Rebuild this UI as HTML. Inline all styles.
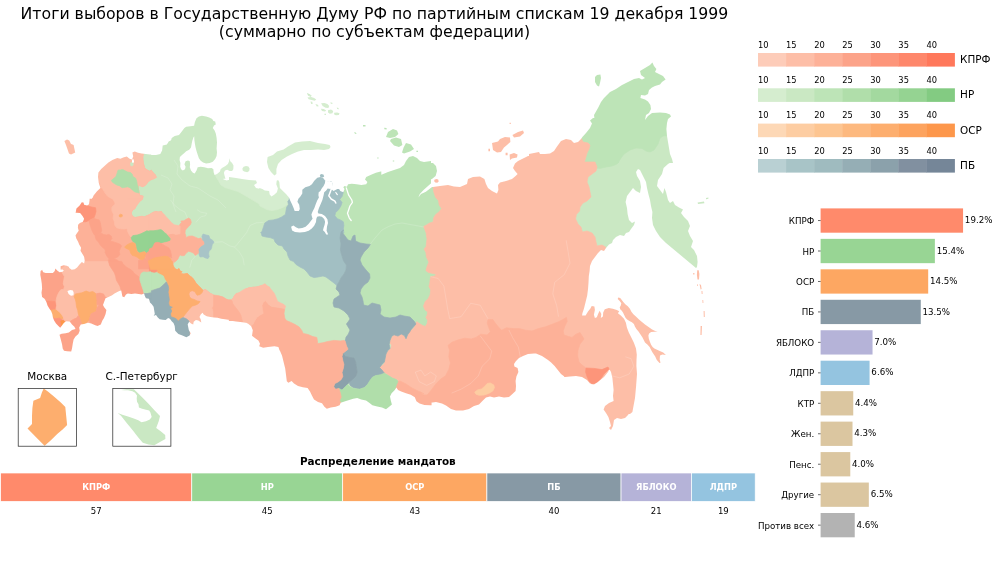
<!DOCTYPE html>
<html lang="ru">
<head>
<meta charset="utf-8">
<title>Итоги выборов в Государственную Думу РФ 1999</title>
<style>
html,body{margin:0;padding:0;background:#fff;}
body{width:1000px;height:563px;overflow:hidden;font-family:'DejaVu Sans', 'Liberation Sans', sans-serif;}
svg{display:block;}
text{font-family:'DejaVu Sans', 'Liberation Sans', sans-serif;fill:#000;}
.ttl{font-size:15.73px;}
.t10{font-size:8.68px;}
.t9{font-size:8.3px;}
.t9b{font-size:8.3px;font-weight:bold;}
.t11{font-size:9.55px;}
.t12{font-size:10.42px;}
.b{font-weight:bold;}
.w{fill:#fff;}
</style>
</head>
<body>
<svg width="1000" height="563" viewBox="0 0 1000 563">
<rect width="1000" height="563" fill="#fff"/>
<g id="map">
<defs><mask id="landmask" maskUnits="userSpaceOnUse" x="0" y="40" width="760" height="420"><path d="M149.4,154.9 156.0,154.9 160.3,154.1 162.1,150.4 162.7,145.6 166.9,144.4 168.7,141.6 171.1,140.2 171.7,138.0 174.7,136.0 179.0,135.1 181.6,131.7 184.4,128.1 186.2,126.7 190.4,126.2 194.1,125.7 194.9,122.1 196.5,118.2 198.9,116.6 201.9,115.8 206.1,116.6 209.2,117.5 212.2,119.1 213.4,121.1 215.2,121.5 215.8,124.5 214.0,125.5 212.8,128.1 214.6,130.5 215.8,133.5 216.6,137.8 217.0,142.6 216.6,148.6 217.0,152.3 216.6,155.9 215.2,158.9 212.8,161.7 209.8,163.1 206.1,163.5 203.1,162.5 200.7,160.7 198.9,158.3 197.7,154.7 196.5,151.0 195.6,147.4 194.9,143.8 194.4,140.2 194.2,136.3 193.5,137.2 192.3,140.8 191.7,143.8 191.0,147.4 189.2,149.8 186.2,151.3 184.4,152.9 182.0,154.9 179.9,157.1 179.6,160.1 180.4,163.1 180.2,166.7 181.1,169.2 182.8,170.4 185.0,169.2 185.6,166.7 184.4,164.3 185.6,161.3 188.0,160.5 189.8,161.3 190.1,164.3 189.8,167.3 191.0,170.4 192.9,172.8 194.7,173.4 196.5,170.4 197.7,167.3 200.7,166.7 204.3,167.3 208.0,168.2 211.6,168.0 213.4,169.2 213.7,172.2 214.6,175.0 217.0,174.0 220.0,171.6 220.6,169.2 222.4,167.7 225.5,166.1 227.9,164.1 229.1,161.3 229.4,158.3 230.3,161.3 232.1,163.1 233.5,165.5 233.3,169.2 232.1,171.0 229.7,171.0 227.3,169.8 224.9,170.4 223.9,172.8 224.6,175.8 225.5,178.8 149.4,178.8Z M242.4,168.6 243.6,166.7 246.0,165.9 248.4,166.5 249.6,168.6 249.2,171.0 247.2,172.2 244.2,171.6 242.7,170.4Z M75.6,213.0 76.4,208.4 79.6,205.6 81.6,202.4 83.6,202.8 84.4,206.0 90.0,207.2 91.2,201.0 93.6,195.6 96.8,191.6 100.4,188.0 98.8,183.0 98.0,177.0 98.4,172.4 101.2,169.0 105.6,165.0 108.4,162.4 112.4,160.0 117.2,158.0 120.4,158.8 123.2,157.6 126.8,156.4 129.6,158.8 132.0,159.6 133.2,156.4 132.4,152.4 134.8,151.4 138.0,152.8 141.6,153.6 150.0,154.4 151.2,154.4 151.2,213.0Z M64.4,141.0 67.0,139.6 69.2,140.6 71.0,144.0 73.6,145.0 75.2,152.4 71.0,154.4 69.0,153.6 66.0,145.0Z M149.6,177.0 222.4,177.0 223.6,179.6 227.0,180.4 231.0,178.4 231.0,213.0 149.6,213.0Z M306.9,93.0 309.3,93.9 311.7,95.5 310.8,96.9 308.1,95.7Z M307.5,97.5 311.1,97.1 314.1,98.1 316.3,99.6 314.7,100.8 311.7,99.9 308.7,99.3Z M310.5,101.5 312.3,101.7 312.7,104.1 311.1,103.9Z M315.4,104.1 317.8,104.7 318.7,106.3 316.8,106.6Z M321.1,103.2 324.4,102.9 327.4,104.1 329.2,106.0 328.4,108.0 325.6,107.8 322.6,106.0Z M330.4,102.3 332.3,102.7 332.5,103.9 330.8,103.7Z M320.8,108.7 323.8,109.0 326.2,110.4 325.0,111.6 322.0,111.1Z M328.0,110.2 331.0,109.6 333.2,111.1 332.5,113.2 329.8,113.8 328.0,112.4Z M334.1,112.8 337.1,112.4 339.5,113.2 338.9,115.0 335.9,115.3 334.2,114.4Z M336.8,107.5 338.5,108.0 338.8,109.2 337.1,109.0Z M324.4,113.8 326.0,113.8 326.0,115.0 324.5,115.0Z M363.0,124.9 365.5,124.9 365.5,126.5 363.0,126.5Z M354.0,132.2 355.8,132.4 356.6,134.1 355.0,133.8Z M384.2,127.8 386.6,128.1 386.6,129.5 384.4,129.3Z M416.4,150.8 418.0,150.8 418.0,152.0 416.4,152.0Z M392.8,160.4 394.2,160.4 394.2,161.6 392.8,161.6Z M377.2,157.4 378.6,157.4 378.6,158.4 377.2,158.4Z M388.0,132.0 393.0,129.0 397.0,130.4 398.4,134.0 395.0,137.0 390.0,138.0 386.0,137.0Z M391.0,139.0 396.0,137.6 401.0,139.0 402.4,145.0 399.0,147.0 394.0,145.6 390.0,141.0Z M406.0,143.0 411.0,144.4 414.0,149.0 410.0,151.6 404.0,153.6 402.0,152.4 403.6,147.6Z M267.0,162.0 267.6,157.0 273.0,155.0 277.0,151.6 283.6,149.6 288.0,146.4 295.0,142.4 302.0,141.6 310.0,141.0 318.0,143.0 325.0,144.0 329.6,145.0 330.6,147.0 329.0,149.0 324.0,150.0 318.0,149.6 311.0,150.0 304.0,150.0 298.0,151.6 292.0,154.0 287.0,156.4 281.6,160.0 278.0,164.0 276.4,169.0 276.4,174.0 274.4,175.6 271.0,172.0 268.4,168.0Z M229.0,177.0 236.0,178.0 242.0,179.0 249.0,180.0 256.0,180.4 257.0,183.0 254.0,185.0 256.0,188.0 260.4,189.0 260.4,213.0 229.0,213.0Z M259.4,187.9 262.4,189.1 264.8,190.6 269.1,191.0 269.7,194.6 271.5,196.6 274.5,194.6 276.9,192.2 277.9,188.5 276.3,184.3 276.7,180.7 278.1,180.1 279.3,181.9 279.9,187.9 282.9,191.0 286.0,194.0 289.0,197.6 290.2,200.6 292.0,204.2 293.8,208.5 295.0,212.1 296.2,213.3 298.6,211.5 299.8,209.1 299.2,204.8 297.4,201.8 298.4,198.8 300.4,196.6 302.3,193.4 302.3,189.7 305.3,187.3 309.5,186.1 311.9,184.3 314.3,180.7 317.3,177.7 320.4,177.1 323.4,178.3 325.2,180.7 329.4,181.9 331.2,181.3 332.4,183.1 332.4,186.1 331.2,189.1 333.6,191.0 337.3,189.1 339.1,188.9 340.3,191.0 343.3,192.2 344.5,189.1 343.3,187.3 344.5,186.1 346.9,186.7 348.1,184.3 351.8,183.7 356.6,184.3 361.4,184.9 366.2,184.3 367.4,181.9 365.0,179.5 366.2,177.1 371.1,174.7 375.9,172.8 380.7,171.6 381.3,171.6 381.3,233.8 259.4,233.8Z M319.8,175.3 321.0,174.1 323.4,174.4 324.2,176.5 322.8,177.4 320.4,177.1Z M228.0,318.0 431.5,318.0 431.6,405.2 430.0,405.2 424.4,404.9 419.6,403.6 416.4,401.2 414.8,397.2 410.8,394.8 406.0,393.2 401.2,391.6 398.0,390.0 396.4,387.6 394.8,390.0 391.6,393.2 390.0,396.4 390.8,400.4 391.9,404.4 389.2,406.8 386.0,409.2 382.0,407.6 377.2,406.5 372.4,405.2 369.2,402.8 366.0,400.4 361.2,399.6 357.2,398.0 353.2,398.8 349.2,400.1 345.2,401.2 340.7,402.8 339.6,405.2 335.6,406.8 330.8,407.6 326.8,408.7 324.4,406.8 322.0,403.3 318.0,402.0 314.0,399.6 311.9,395.6 310.0,391.6 307.6,387.9 302.8,387.3 298.0,386.0 294.0,383.6 291.6,380.9 288.4,382.8 286.8,381.2 286.0,374.8 285.2,368.4 283.6,362.0 282.0,355.6 279.6,350.0 280.0,351.8 278.4,347.0 274.4,346.2 268.0,347.0 263.2,347.8 259.2,346.2 260.0,343.8 258.4,340.6 255.2,338.2 252.0,335.8 252.8,330.2 251.2,326.2 247.2,323.0 242.4,322.2 236.0,321.4 229.6,320.6 228.8,320.4Z M379.0,213.0 379.0,176.0 382.0,174.4 388.0,172.0 394.0,170.0 400.0,168.0 404.0,165.0 406.0,161.0 409.0,157.0 413.0,156.0 417.0,158.0 420.0,161.0 424.0,162.0 431.0,161.0 431.0,213.0Z M429.0,186.4 433.0,187.0 440.0,186.0 448.0,185.0 454.0,186.4 460.0,187.0 467.0,184.0 468.0,179.0 473.0,177.0 480.0,176.4 484.4,179.0 486.0,184.0 488.0,188.0 492.0,191.0 497.0,193.6 498.4,190.0 498.0,185.0 500.0,182.4 506.0,181.0 512.0,179.0 515.6,176.0 517.6,174.0 515.0,171.0 513.0,168.0 515.0,163.6 518.0,161.0 524.0,158.0 530.0,155.0 531.0,155.0 531.0,213.0 429.0,213.0Z M429.0,162.0 433.0,163.0 436.0,166.0 437.0,171.0 435.6,176.0 432.0,179.0 429.0,180.0Z M434.0,180.0 437.0,179.0 439.0,180.4 438.4,182.4 435.0,182.8Z M492.0,143.0 498.0,141.6 500.0,139.0 505.0,137.0 510.0,137.6 510.4,142.0 507.0,145.0 504.0,147.6 501.0,152.0 497.0,152.4 493.0,150.0Z M512.4,135.0 518.0,132.0 523.0,130.4 524.0,133.0 520.0,136.4 514.0,137.6Z M509.6,154.4 514.0,153.0 517.6,154.4 517.0,157.6 512.0,158.4 510.0,160.0Z M505.6,152.8 507.6,152.8 507.6,155.2 505.6,155.2Z M488.4,148.8 490.0,148.8 490.0,151.2 488.4,151.2Z M509.6,122.8 510.8,122.8 510.8,124.0 509.6,124.0Z M529.0,154.0 534.0,153.0 539.0,152.0 540.0,154.0 545.0,154.0 550.0,153.6 554.0,151.0 557.0,146.4 561.0,141.0 566.0,139.0 571.0,140.0 574.0,143.0 578.0,142.0 581.0,139.0 582.4,137.0 586.0,133.0 590.0,128.0 592.0,123.6 590.0,120.4 593.0,118.0 600.0,116.0 602.0,119.0 600.0,122.0 595.0,123.0 594.0,115.0 598.0,108.0 601.0,102.0 604.0,98.0 610.0,92.0 616.0,89.0 622.0,85.0 628.0,82.0 634.0,79.0 639.0,78.0 642.0,79.6 645.0,78.0 641.0,75.0 640.0,71.0 645.0,68.0 650.0,65.0 652.4,62.4 654.0,66.0 656.4,69.0 655.0,72.0 660.0,74.4 663.0,76.0 665.6,79.6 662.0,82.0 660.0,84.4 655.0,86.0 652.0,87.6 649.0,90.0 648.0,94.0 645.0,95.6 641.0,95.0 640.4,98.0 645.0,99.6 648.0,101.6 650.4,105.0 651.0,109.0 649.0,113.0 646.0,115.0 645.0,120.0 648.0,116.0 652.0,113.0 660.0,112.4 666.0,113.0 670.0,114.4 671.0,116.4 668.0,119.0 667.0,123.0 666.4,129.0 667.0,136.0 668.0,142.0 669.0,148.0 670.0,154.0 672.0,159.0 673.0,163.0 529.0,163.0Z M595.0,77.0 597.0,75.0 600.4,74.4 601.0,78.0 600.0,83.0 599.0,86.4 597.0,85.6 595.0,82.0Z M673.0,161.0 668.0,164.0 663.6,168.0 662.0,174.0 658.0,180.0 657.0,186.0 660.0,190.0 663.0,194.0 664.4,188.0 666.0,192.0 668.0,200.0 670.0,203.0 673.0,201.0 675.0,205.0 679.0,207.6 683.0,209.6 681.0,213.0 684.0,217.0 688.0,221.0 690.0,226.0 688.0,231.0 690.0,236.0 693.0,241.0 691.0,247.0 694.0,250.0 697.0,256.0 697.6,262.0 697.0,267.0 696.0,268.0 690.0,263.0 684.0,258.0 678.0,253.0 672.0,248.0 666.0,243.0 660.0,237.0 656.0,231.0 653.0,225.0 652.0,218.0 652.4,212.0 651.0,206.0 650.0,200.0 648.4,194.0 647.0,188.0 646.0,182.0 644.0,178.0 642.0,174.0 640.0,170.0 638.0,169.0 636.0,172.0 637.0,176.0 640.0,181.0 641.0,187.0 640.0,193.0 636.0,191.0 633.0,188.0 630.0,192.0 627.0,196.0 625.6,202.0 627.0,208.0 627.6,214.0 629.0,220.0 632.0,223.0 635.0,221.6 634.0,225.0 631.0,229.0 629.0,232.0 626.0,233.0 624.0,236.0 620.0,235.0 616.0,237.0 613.0,240.0 612.0,243.0 609.0,244.4 606.0,248.0 604.0,251.0 601.0,250.0 598.0,253.0 595.0,257.0 592.0,261.0 590.0,266.0 589.6,271.0 589.0,275.0 529.0,275.0 529.0,161.0Z M697.6,202.4 704.0,201.6 704.4,203.2 698.0,204.0Z M706.0,198.0 708.4,197.6 708.4,198.8 706.0,199.2Z M697.2,270.2 698.7,270.2 699.4,274.0 699.0,279.5 697.5,279.5 696.9,275.0Z M693.2,273.0 694.4,273.0 694.4,274.4 693.2,274.4Z M429.0,211.0 531.0,211.0 531.0,325.0 429.0,325.0Z M229.0,211.0 431.0,211.0 431.0,321.0 229.0,321.0Z M529.0,273.0 589.6,270.0 588.8,276.4 588.5,282.8 588.0,289.2 587.2,295.6 585.6,302.0 584.0,308.4 582.4,313.2 582.1,315.6 585.6,315.6 588.0,311.6 590.4,308.4 591.7,306.0 594.4,306.5 594.9,310.0 593.9,314.8 594.9,318.0 596.8,317.2 598.4,313.2 599.7,310.8 601.3,314.0 600.8,318.0 602.9,316.4 603.2,312.4 604.8,309.2 608.8,308.1 612.8,308.7 616.8,310.0 619.2,311.3 617.9,313.2 620.8,315.6 624.0,318.8 625.9,322.8 626.9,327.6 628.8,332.4 631.2,337.2 633.9,342.8 636.0,348.4 636.8,354.8 636.5,359.9 636.4,366.0 637.0,374.0 636.4,382.0 636.0,387.0 613.6,387.0 613.0,380.0 612.0,374.0 610.0,368.0 608.0,372.0 604.0,377.0 599.0,381.0 594.0,384.0 590.0,383.6 587.0,380.0 582.0,377.0 576.0,376.0 570.0,376.4 565.0,377.0 561.0,374.0 557.0,369.0 553.0,364.0 548.0,360.0 542.0,356.0 536.0,353.6 529.0,353.0Z M629.0,385.0 636.2,385.0 635.0,398.0 632.4,412.0 630.0,414.0 629.0,414.0Z M618.2,297.6 620.2,298.1 621.8,300.1 623.3,302.1 625.3,304.2 627.8,306.2 629.9,308.7 631.4,311.8 633.4,314.3 635.9,316.5 639.0,319.4 642.0,321.9 645.0,324.4 648.6,326.9 652.1,329.5 655.2,331.0 657.7,331.5 654.7,331.7 651.1,332.0 649.1,333.5 648.4,335.5 648.8,338.6 649.8,341.6 651.1,344.7 652.6,347.0 654.4,348.4 659.2,350.8 663.2,352.4 665.9,355.1 662.4,354.5 660.0,355.6 659.7,359.6 660.5,362.8 659.5,363.1 656.8,359.9 655.2,356.4 652.2,351.9 649.6,347.0 647.6,344.7 645.0,342.6 644.0,340.6 642.5,337.6 640.5,334.5 638.5,331.5 636.4,329.0 634.9,326.4 633.9,323.9 631.9,322.2 629.4,320.9 627.1,319.6 625.5,317.8 624.3,315.3 623.1,312.8 621.8,310.7 620.2,309.2 619.7,307.2 620.7,305.7 621.3,303.2 619.7,301.1 617.7,299.1Z M699.5,284.0 701.0,285.0 701.6,289.0 700.6,289.5Z M697.0,284.6 698.0,284.6 698.0,285.8 697.0,285.8Z M701.5,291.0 702.4,291.0 702.6,294.0 701.7,294.0Z M702.4,300.0 703.2,300.0 703.4,303.0 702.6,303.0Z M703.6,311.0 704.6,311.0 704.8,317.0 703.8,317.0Z M700.6,326.0 702.0,326.0 701.6,335.0 700.4,335.0Z M429.0,323.0 625.0,323.0 627.0,330.0 630.0,337.0 631.0,340.0 631.0,412.0 630.0,412.0 628.0,415.0 625.0,418.0 621.0,419.0 617.0,418.0 614.0,420.0 613.0,426.0 611.0,430.0 609.0,428.0 611.0,426.0 610.0,422.0 608.4,417.0 606.0,413.0 603.6,409.6 605.0,406.0 609.0,403.0 613.6,401.0 613.0,396.0 613.6,390.0 613.0,384.0 612.4,378.0 611.0,372.0 609.0,368.4 606.0,373.0 602.0,378.0 598.0,382.0 594.0,384.4 591.0,384.0 588.0,381.0 585.0,377.6 581.0,376.4 577.0,375.6 572.0,376.0 568.0,376.4 564.4,377.0 562.0,373.6 559.0,370.4 555.6,367.0 551.6,363.0 548.0,359.0 544.0,355.6 539.0,353.6 534.0,353.6 528.0,354.0 523.0,356.0 519.0,358.0 516.0,361.0 514.0,364.0 514.4,366.4 517.6,368.0 518.4,372.0 516.4,376.4 515.6,381.0 516.0,386.0 515.6,391.0 512.4,394.0 509.0,397.0 504.0,397.6 499.0,396.4 494.0,397.6 490.0,396.4 486.0,397.6 482.4,401.0 479.0,404.4 474.0,406.0 469.0,409.0 463.0,410.4 456.0,410.4 451.0,409.0 446.0,405.6 442.0,403.6 436.0,402.0 429.0,403.0Z M256.0,199.0 256.0,331.0 253.6,330.0 252.6,327.2 250.2,324.8 246.6,323.0 243.0,322.1 239.3,321.8 234.5,321.2 229.7,320.0 224.9,319.3 221.2,318.7 217.6,317.8 214.0,317.5 210.4,316.9 206.7,316.3 203.7,314.5 202.5,312.7 200.7,314.5 199.5,316.9 200.7,319.3 201.3,322.4 198.3,320.6 195.9,320.0 193.7,321.8 193.2,324.5 191.0,323.6 189.2,321.8 187.7,324.2 188.0,326.0 188.8,330.0 190.7,333.2 189.6,335.6 186.4,337.2 182.4,335.6 178.4,334.0 175.2,330.8 174.7,326.0 173.5,323.0 171.7,321.2 169.9,318.7 168.1,318.1 165.7,320.0 162.7,319.7 159.7,319.3 157.8,317.5 156.0,315.1 153.6,315.7 154.8,313.9 154.2,310.3 153.6,306.7 151.8,304.3 150.0,302.4 148.9,298.8 145.9,298.2 144.7,295.8 144.1,293.6 141.7,294.4 138.7,294.0 135.0,293.6 131.4,294.0 127.8,293.6 126.0,294.6 124.2,297.3 122.4,296.4 121.8,293.4 121.2,290.4 119.3,291.0 116.9,292.2 114.5,293.4 112.1,295.2 108.5,297.0 105.5,298.2 104.2,301.8 103.0,304.9 104.2,307.3 106.4,310.0 105.6,314.0 104.0,318.0 102.4,320.4 100.8,324.4 97.6,326.0 95.2,325.2 91.2,323.6 88.0,322.8 84.0,324.1 80.8,324.4 79.2,327.6 79.7,330.8 78.4,334.0 75.5,336.4 73.6,339.6 72.8,343.6 72.0,348.4 71.2,351.6 67.2,351.3 64.0,350.8 62.7,348.4 62.1,344.4 60.8,339.6 59.5,334.8 61.6,333.7 65.6,333.2 68.8,332.4 72.0,330.0 75.5,328.9 74.4,326.8 72.0,324.4 69.6,321.5 66.4,321.2 64.0,322.8 61.6,326.0 60.2,327.8 58.4,326.0 56.0,323.6 54.1,320.6 52.9,317.5 52.3,313.9 51.1,310.9 49.3,308.5 47.5,305.5 46.3,301.8 44.5,298.8 42.1,297.0 41.5,292.8 42.1,288.6 41.8,283.7 41.1,278.9 40.3,274.7 40.6,271.1 42.1,269.8 43.3,272.3 45.7,273.1 49.3,272.9 52.9,272.9 54.7,271.1 55.4,268.6 57.2,270.5 59.6,272.3 62.6,271.7 63.8,270.5 61.6,268.6 62.6,266.8 65.6,266.2 68.6,267.4 71.7,269.8 74.7,269.2 77.1,267.4 79.5,264.4 81.9,262.0 84.1,263.4 84.7,260.4 84.1,256.7 82.3,253.7 80.5,250.7 81.1,247.7 79.3,244.7 78.1,241.7 76.3,238.6 75.5,235.6 76.9,233.2 78.7,230.8 77.9,227.8 78.1,224.7 79.9,222.9 82.9,221.7 84.1,218.7 82.3,215.7 79.9,212.7 76.9,211.5 76.3,209.1 78.1,207.2 80.5,204.8 81.7,202.2 83.5,202.4 84.1,204.8 87.2,205.4 89.0,204.2 89.6,200.0 89.6,198.8Z M60.6,266.2 63.6,265.2 66.6,265.8 69.1,267.0 69.1,269.4 60.6,269.4Z" fill="#fff"/></mask></defs>
<g mask="url(#landmask)">
<rect x="0" y="40" width="760" height="420" fill="#cae8c3"/>
<path d="M570.0,40.0 745.0,40.0 745.0,135.6 668.0,135.6 663.0,136.0 660.0,138.0 658.0,144.0 654.0,150.0 650.0,152.0 646.0,151.0 642.0,148.4 636.0,148.0 630.0,150.0 624.0,154.0 621.0,158.0 618.0,163.0 619.0,162.0 617.0,164.0 612.0,166.0 606.0,167.0 600.0,168.4 595.0,168.0 590.0,172.0 570.0,172.0Z" fill="#bde4b7" stroke="#bde4b7" stroke-width="0.7" stroke-linejoin="round"/>
<path d="M346.0,120.0 445.0,120.0 445.0,340.0 416.0,324.0 414.0,321.0 410.0,317.0 404.0,316.0 400.0,315.0 396.0,317.0 390.0,318.0 384.0,317.0 380.0,314.0 381.0,310.0 380.0,305.0 376.0,304.0 372.0,303.0 368.0,306.0 363.6,305.0 363.0,301.0 362.0,297.0 360.0,293.0 361.0,289.0 364.0,285.0 368.0,282.0 370.0,278.0 369.6,274.0 366.0,270.0 362.0,265.0 360.0,260.0 361.0,257.0 364.0,252.0 368.0,248.0 370.4,244.4 366.0,244.0 360.0,243.0 355.6,241.0 355.0,235.0 353.0,236.0 351.0,241.0 348.0,240.0 345.0,236.0 342.0,232.0 343.6,230.0 343.9,233.0 343.3,229.0 343.9,225.4 343.3,221.7 340.3,219.9 337.3,218.7 334.9,215.7 335.5,212.7 338.5,209.7 340.9,206.0 342.1,202.4 339.7,199.4 342.1,196.4 343.3,192.2Z" fill="#bde4b7" stroke="#bde4b7" stroke-width="0.7" stroke-linejoin="round"/>
<path d="M433.0,186.3 433.5,179.6 438.0,178.2 438.0,118.0 580.0,118.0 581.0,138.0 583.0,142.0 588.0,143.0 590.0,145.0 589.0,149.0 587.0,153.0 585.6,158.0 584.4,162.0 595.0,162.0 597.0,167.0 596.0,171.0 592.0,174.0 588.0,177.0 587.0,182.0 589.0,187.0 590.0,192.0 591.0,197.0 587.0,201.0 583.0,203.0 580.0,207.0 579.6,211.0 576.4,214.4 575.6,219.0 578.0,224.0 581.0,227.0 582.4,232.0 587.0,231.0 592.0,233.0 595.0,237.0 596.0,242.0 597.0,246.0 602.0,245.0 605.6,247.0 606.4,252.0 640.0,256.0 685.0,270.5 693.0,269.6 712.0,269.6 720.0,280.0 720.0,445.0 390.0,420.0 390.0,409.0 392.0,404.0 390.0,400.0 392.0,396.0 395.0,390.0 396.4,384.0 397.6,380.0 394.0,379.0 390.0,376.4 386.0,373.6 383.0,372.0 380.0,367.0 380.0,366.4 381.2,365.8 383.6,364.6 384.8,361.5 385.4,357.9 386.0,354.3 387.8,351.3 390.9,348.3 391.5,345.2 389.7,342.2 390.9,339.2 392.7,335.6 395.7,335.0 399.3,335.6 401.7,333.8 404.1,335.6 406.0,338.6 407.2,335.6 409.0,332.0 412.0,329.5 414.4,327.1 415.0,324.1 416.8,321.7 418.6,322.9 422.3,325.3 425.3,326.5 427.1,323.5 427.7,320.5 425.9,317.5 427.1,315.1 427.7,312.0 424.7,309.6 423.5,306.0 423.5,306.0 425.3,301.4 428.3,298.4 430.1,294.7 430.7,289.9 428.9,286.3 429.7,283.9 430.1,280.3 430.7,276.6 434.9,276.0 436.1,274.2 433.1,273.6 428.3,272.4 425.9,270.6 427.1,266.4 428.9,262.1 426.5,257.3 425.9,252.5 424.1,248.9 426.1,246.5 426.5,242.8 427.1,238.0 426.8,238.0 426.1,232.8 424.7,229.2 423.7,226.5 426.5,224.9 429.5,223.1 433.1,221.9 433.7,217.7 435.5,214.7 439.2,211.7 441.6,208.6 439.2,205.0 438.6,200.8 435.5,197.2 433.7,191.7 433.1,186.3Z" fill="#fdbea7" stroke="#fdbea7" stroke-width="0.7" stroke-linejoin="round"/>
<path d="M395.6,382.4 400.0,381.0 406.0,384.0 412.0,388.0 418.0,391.0 424.0,394.0 420.0,391.8 423.2,395.0 427.2,395.0 431.2,390.2 436.0,383.8 440.8,379.0 445.6,375.8 448.8,369.4 450.4,363.0 448.8,356.6 449.6,350.2 448.0,345.4 452.0,342.2 458.4,339.8 464.8,338.2 471.2,339.0 476.0,337.4 480.8,334.2 487.2,335.0 490.4,331.8 488.8,327.8 487.2,323.0 488.0,319.8 492.8,319.5 495.2,323.0 498.4,327.0 501.6,330.2 506.4,327.8 512.8,328.6 519.2,328.6 525.6,330.2 532.0,331.0 538.4,328.6 544.8,327.0 551.2,324.6 557.6,322.2 562.4,319.8 566.4,317.4 567.2,321.4 564.8,326.2 563.2,331.0 564.0,335.0 568.8,336.6 572.0,337.4 576.0,334.2 580.0,332.6 584.0,339.0 580.0,344.0 578.0,350.0 577.6,356.0 579.0,362.0 582.0,365.0 586.0,368.0 587.0,376.4 589.0,381.0 592.0,384.0 592.4,390.0 592.0,445.0 395.0,445.0Z" fill="#fdb198" stroke="#fdb198" stroke-width="0.7" stroke-linejoin="round"/>
<path d="M586.0,368.0 594.0,368.4 602.0,369.6 608.0,367.0 609.0,369.0 604.0,374.0 600.0,380.0 596.0,383.0 592.0,384.0 589.0,381.0 587.0,376.4 585.6,372.0Z" fill="#fd957a" stroke="#fd957a" stroke-width="0.7" stroke-linejoin="round"/>
<path d="M474.7,392.1 477.6,389.9 481.6,388.9 484.8,386.2 487.2,383.5 490.4,383.0 493.9,385.1 494.4,387.8 492.8,391.0 488.8,393.4 484.0,395.0 479.2,395.3 476.0,394.2Z" fill="#fdcda2" stroke="#fdcda2" stroke-width="0.7" stroke-linejoin="round"/>
<path d="M142.1,152.7 142.7,158.1 143.3,162.9 144.5,167.8 146.9,169.9 149.9,171.4 151.2,170.2 153.0,172.6 155.4,175.0 156.0,177.4 153.6,178.6 150.5,179.8 148.1,181.7 146.3,184.1 144.5,185.9 142.1,186.5 139.7,185.3 137.9,185.9 138.5,189.5 139.1,193.1 139.7,195.5 142.7,196.1 142.1,199.2 140.3,200.0 138.5,202.4 136.1,205.4 134.9,208.5 132.4,210.3 131.2,212.7 131.8,215.1 133.0,216.9 135.5,217.5 138.5,216.9 142.1,216.3 144.5,216.9 146.9,215.7 149.9,214.5 150.0,214.5 152.4,212.7 155.4,211.5 158.5,212.1 161.5,211.5 162.7,214.5 164.5,218.1 166.9,221.7 169.3,224.1 172.3,226.0 176.0,225.6 178.4,226.6 180.2,224.1 181.6,222.3 180.8,221.1 183.8,220.8 186.2,219.3 188.6,218.1 190.4,219.3 191.3,222.3 190.4,224.7 188.6,226.6 186.8,228.4 185.3,230.2 185.0,233.2 186.0,236.2 185.6,238.0 188.6,236.2 192.3,236.0 195.9,237.4 198.3,238.6 200.7,238.0 202.5,239.8 204.3,241.7 204.9,244.1 203.1,245.6 200.7,247.1 198.9,249.5 199.3,252.5 197.1,254.3 195.3,255.5 193.5,253.1 191.0,251.9 188.6,251.3 186.2,253.1 184.4,255.5 182.0,255.8 180.2,254.9 179.0,256.7 177.8,259.2 176.0,261.0 173.5,262.8 172.3,265.8 172.3,262.0 172.9,265.0 174.7,268.6 177.2,269.8 179.0,268.6 180.2,271.1 182.0,271.7 180.2,273.5 183.8,274.1 187.4,273.5 189.8,275.9 192.3,277.7 194.1,280.1 195.9,283.1 198.3,285.5 200.7,288.0 203.1,290.4 205.5,289.5 208.0,291.6 210.4,293.4 212.8,294.6 215.8,297.0 217.6,298.2 220.0,296.4 223.0,297.0 225.5,298.8 228.5,300.0 231.5,299.7 233.3,298.2 235.1,294.6 236.9,293.4 240.5,293.1 244.2,292.2 245.4,289.2 249.0,288.0 252.6,287.4 256.2,287.4 259.9,286.1 263.5,285.5 265.3,284.3 268.0,288.0 268.0,340.0 30.0,365.0 30.0,120.0 142.0,120.0Z" fill="#fdb198" stroke="#fdb198" stroke-width="0.7" stroke-linejoin="round"/>
<path d="M96.2,176.2 96.2,156.9 132.4,150.3 144.5,150.9 142.7,158.1 143.3,162.9 144.5,167.8 146.9,169.9 149.9,171.4 151.2,170.2 153.0,172.6 155.4,175.0 156.6,177.4 153.6,178.9 150.5,180.1 148.1,181.9 146.3,184.3 144.5,186.1 142.1,186.8 139.7,185.6 138.1,186.2 138.5,189.5 139.1,193.1 139.7,195.5 143.3,196.1 142.6,199.4 139.7,201.6 137.9,204.0 136.1,206.4 134.9,208.8 115.5,208.8 114.9,202.8 113.1,199.2 110.7,198.0 108.3,196.7 105.9,194.3 104.1,191.3 102.3,188.3 101.0,187.7 100.4,184.7 98.6,181.7 98.4,178.6Z" fill="#fdbea7" stroke="#fdbea7" stroke-width="0.7" stroke-linejoin="round"/>
<path d="M63.6,139.4 67.8,139.4 71.5,144.8 73.9,145.4 75.1,148.5 75.5,152.1 72.7,154.2 69.9,154.7 68.5,151.5 66.6,147.2 64.6,143.0Z" fill="#fdbea7" stroke="#fdbea7" stroke-width="0.7" stroke-linejoin="round"/>
<path d="M111.3,180.4 113.7,178.6 116.1,176.2 117.3,172.6 118.0,170.2 120.4,169.9 122.8,169.6 125.2,170.8 127.6,172.0 130.6,172.6 132.4,174.4 133.0,176.8 135.5,178.0 136.7,181.0 137.3,184.7 137.9,185.9 138.5,189.5 139.1,193.1 137.3,192.5 134.9,191.9 132.4,190.1 130.0,187.7 127.6,186.8 125.2,187.3 122.2,187.7 119.8,185.9 116.7,184.9 114.3,183.5 112.5,182.3Z" fill="#b0deaa" stroke="#b0deaa" stroke-width="0.7" stroke-linejoin="round"/>
<path d="M130.6,162.9 132.4,162.3 133.4,164.1 132.4,166.0 130.7,165.6Z" fill="#cae8c3" stroke="#cae8c3" stroke-width="0.7" stroke-linejoin="round"/>
<path d="M111.9,207.2 114.3,204.8 118.0,203.6 122.8,203.0 127.6,199.4 140.9,199.4 138.5,202.4 136.1,205.4 134.9,208.5 132.4,210.3 131.2,212.7 131.8,215.1 133.0,216.9 135.5,217.5 138.5,216.9 142.1,216.3 144.5,216.9 146.9,215.7 149.9,214.5 153.0,213.3 155.4,212.7 157.8,212.1 161.4,212.7 163.8,213.9 166.2,216.9 168.7,219.3 171.1,222.3 174.1,224.7 177.1,225.4 180.0,226.0 180.0,233.8 175.9,234.4 172.3,233.2 168.7,233.8 166.2,235.0 163.8,233.2 162.6,230.2 160.2,231.4 156.6,230.8 153.0,230.2 150.5,231.6 146.9,230.8 144.5,232.0 140.9,233.8 137.3,235.0 133.0,235.6 131.2,237.4 129.4,235.0 127.6,231.4 127.0,228.4 124.0,229.0 120.4,228.7 116.7,227.8 114.9,225.4 114.3,221.7 113.1,218.1 113.7,214.5 111.9,210.9Z" fill="#fdbea7" stroke="#fdbea7" stroke-width="0.7" stroke-linejoin="round"/>
<path d="M76.3,209.1 78.1,207.2 80.5,204.8 81.7,202.2 83.5,202.4 84.1,204.8 87.2,205.4 89.6,206.6 92.6,207.2 95.6,207.8 96.0,211.5 95.0,215.1 93.8,218.1 91.4,219.3 89.0,220.5 86.0,221.7 82.9,221.7 84.1,218.7 82.3,215.7 79.9,212.7 76.9,211.5 74.5,210.9 74.5,208.5Z" fill="#fd957a" stroke="#fd957a" stroke-width="0.7" stroke-linejoin="round"/>
<path d="M89.0,220.5 91.4,219.3 93.8,218.1 96.2,219.3 99.2,219.9 100.4,222.9 101.0,226.6 101.7,230.2 101.0,232.6 98.6,234.4 96.2,236.2 94.4,235.0 92.6,232.0 91.4,229.0 90.2,225.4 89.6,222.9Z" fill="#fca389" stroke="#fca389" stroke-width="0.7" stroke-linejoin="round"/>
<path d="M95.0,236.2 98.6,234.4 101.0,233.2 103.5,234.4 106.5,235.0 108.9,234.4 111.3,236.2 111.9,238.6 110.1,241.0 107.7,241.7 106.5,243.5 105.9,246.5 105.3,249.5 102.9,247.7 100.4,245.3 98.6,242.3 96.2,239.8Z" fill="#fca389" stroke="#fca389" stroke-width="0.7" stroke-linejoin="round"/>
<path d="M106.5,243.5 107.7,241.7 110.1,241.0 113.1,241.7 116.7,242.9 119.8,244.1 121.6,245.9 120.4,248.3 119.2,251.3 119.8,254.3 118.0,256.7 115.5,258.0 113.1,258.6 110.1,259.8 108.3,258.0 106.5,255.5 105.3,252.5 105.3,249.5 105.9,246.5Z" fill="#fca389" stroke="#fca389" stroke-width="0.7" stroke-linejoin="round"/>
<path d="M108.3,259.8 110.1,259.8 113.1,258.6 115.5,259.2 118.0,260.4 120.4,262.8 122.2,265.8 122.8,268.8 108.3,268.8Z" fill="#fca389" stroke="#fca389" stroke-width="0.7" stroke-linejoin="round"/>
<path d="M153.0,246.5 154.2,244.1 156.6,242.3 159.0,241.7 161.4,243.5 165.0,245.9 168.7,247.7 170.5,250.7 171.1,254.3 170.5,256.7 168.1,256.7 165.0,256.1 161.4,256.7 157.8,257.3 154.2,258.0 150.5,259.8 148.1,261.0 146.3,259.2 145.1,255.5 146.0,253.1 146.3,252.5 148.7,250.7 149.9,248.3Z" fill="#fca389" stroke="#fca389" stroke-width="0.7" stroke-linejoin="round"/>
<path d="M138.5,260.4 142.7,259.8 144.5,258.0 146.3,259.2 148.1,261.0 149.9,264.0 150.5,268.8 138.5,268.8Z" fill="#fca389" stroke="#fca389" stroke-width="0.7" stroke-linejoin="round"/>
<path d="M131.2,237.4 133.0,235.6 137.3,235.0 140.9,233.8 144.5,232.0 146.9,230.8 150.5,231.6 153.0,230.2 156.6,230.8 160.2,231.4 162.6,230.2 163.8,233.2 166.2,235.0 168.7,236.8 170.5,239.2 168.7,240.4 165.0,241.0 162.6,242.3 159.0,241.7 156.6,242.3 154.2,244.1 153.0,246.5 149.9,248.3 148.7,250.7 146.3,252.5 144.5,251.3 142.1,251.9 139.7,253.1 137.9,251.3 136.7,248.3 136.1,245.3 135.5,242.9 133.0,241.7 131.8,239.8Z" fill="#95d392" stroke="#95d392" stroke-width="0.7" stroke-linejoin="round"/>
<path d="M124.6,247.1 126.4,245.3 129.4,243.5 132.4,242.5 135.1,243.5 135.8,246.5 136.3,249.5 137.3,251.9 139.7,253.1 142.1,252.2 144.5,251.7 146.0,253.1 145.1,255.5 144.5,258.0 142.7,259.8 139.7,259.2 137.3,257.3 134.9,256.1 132.4,255.5 130.6,253.1 129.8,250.1 127.6,248.9 125.8,248.3Z" fill="#fdae6e" stroke="#fdae6e" stroke-width="0.7" stroke-linejoin="round"/>
<path d="M119.2,215.1 120.4,214.2 122.2,214.7 122.3,216.3 121.0,217.1 119.4,216.7Z" fill="#fdae6e" stroke="#fdae6e" stroke-width="0.7" stroke-linejoin="round"/>
<path d="M149.4,214.5 152.4,212.7 155.4,211.5 158.5,212.1 161.5,211.5 162.7,214.5 164.5,218.1 166.9,221.7 169.3,224.1 172.3,226.0 176.0,225.6 178.4,226.6 179.0,229.0 177.8,232.0 176.0,232.6 172.9,233.2 169.9,233.8 166.9,234.4 164.5,232.6 162.7,230.8 160.9,229.6 157.2,230.2 153.6,230.8 149.4,231.4Z" fill="#fdbea7" stroke="#fdbea7" stroke-width="0.7" stroke-linejoin="round"/>
<path d="M149.4,230.8 153.6,230.8 157.2,230.2 160.9,229.6 162.7,230.8 164.5,232.6 166.9,234.4 168.1,237.4 169.9,240.4 165.7,241.7 162.1,242.3 160.3,242.9 157.2,242.3 154.8,242.9 153.6,245.3 152.4,247.7 149.4,248.9Z" fill="#95d392" stroke="#95d392" stroke-width="0.7" stroke-linejoin="round"/>
<path d="M149.4,248.9 152.4,247.7 153.6,245.3 154.8,242.9 157.2,242.3 160.3,242.9 161.5,245.3 163.9,247.1 166.9,248.3 169.3,250.7 171.1,254.3 171.7,258.0 169.9,256.7 166.9,256.1 163.3,256.7 159.7,257.3 156.0,258.6 153.6,259.8 149.4,260.4Z" fill="#fca389" stroke="#fca389" stroke-width="0.7" stroke-linejoin="round"/>
<path d="M201.9,236.2 203.1,234.0 206.1,235.0 208.9,235.6 209.8,238.6 212.8,240.4 214.0,242.3 212.2,244.7 211.6,247.7 211.0,249.5 209.2,250.7 208.6,253.7 209.2,256.7 208.0,258.6 205.5,258.0 203.1,256.7 200.1,257.0 198.9,254.3 199.3,252.5 198.9,249.5 200.7,247.1 203.1,245.6 204.9,244.1 204.3,241.7 202.5,239.8Z" fill="#a8c4c7" stroke="#a8c4c7" stroke-width="0.7" stroke-linejoin="round"/>
<path d="M183.2,316.9 185.0,314.5 187.4,311.5 189.8,308.5 192.3,306.1 195.9,304.9 198.3,303.7 200.1,301.6 197.1,300.9 194.1,299.4 191.7,298.8 189.6,297.0 188.9,294.0 189.8,291.6 192.3,290.7 194.7,291.6 195.9,293.4 197.1,295.2 200.1,294.6 201.9,292.8 203.1,290.4 205.5,289.5 208.0,291.6 210.4,293.4 212.8,294.6 215.8,297.0 216.4,300.6 215.8,304.3 213.4,306.1 211.6,307.9 212.8,310.3 214.6,312.7 215.2,315.1 214.0,320.0 200.7,324.8 186.2,324.8Z" fill="#fdbea7" stroke="#fdbea7" stroke-width="0.7" stroke-linejoin="round"/>
<path d="M231.5,299.7 233.3,298.2 235.1,294.6 236.9,293.4 240.5,293.1 244.2,292.2 245.4,289.2 249.0,288.0 252.6,287.4 256.2,287.4 259.9,286.1 263.5,285.5 265.3,284.3 267.7,286.1 270.0,287.4 270.0,299.4 267.7,301.8 264.7,300.6 262.9,303.0 262.3,306.7 263.5,310.3 262.9,313.9 261.1,315.7 258.7,317.5 256.2,320.0 254.4,322.4 252.6,324.8 250.2,327.2 243.0,324.8 243.0,320.0 241.8,317.5 239.9,314.5 238.1,311.5 235.7,309.1 233.3,306.7 232.1,303.0Z" fill="#fdbea7" stroke="#fdbea7" stroke-width="0.7" stroke-linejoin="round"/>
<path d="M149.4,261.4 172.3,261.4 172.9,265.0 174.7,268.6 177.2,269.8 179.0,268.6 180.2,271.1 182.0,271.7 180.2,273.5 183.8,274.1 187.4,273.5 189.8,275.9 192.3,277.7 194.1,280.1 195.9,283.1 198.3,285.5 200.7,288.0 203.1,290.4 201.9,292.8 200.1,294.6 197.1,295.2 195.9,293.4 194.7,291.6 192.3,290.7 189.8,291.6 188.9,294.0 189.6,297.0 191.7,298.8 194.1,299.4 197.1,300.9 200.1,301.6 198.3,303.7 195.9,304.9 192.3,306.1 189.8,308.5 187.4,311.5 185.0,314.5 183.2,316.9 180.8,318.7 178.4,320.9 176.0,318.7 173.5,317.5 171.1,316.9 170.5,313.9 171.7,310.9 170.5,308.5 172.3,307.3 169.3,306.1 168.7,303.0 169.3,299.4 168.7,295.8 168.1,292.2 168.7,288.6 168.1,285.5 166.3,281.9 164.5,278.9 163.3,275.9 160.9,274.7 158.5,273.5 157.2,270.5 155.4,267.4 152.4,265.6 149.4,265.0Z" fill="#fdae6e" stroke="#fdae6e" stroke-width="0.7" stroke-linejoin="round"/>
<path d="M149.4,265.0 152.4,265.6 155.4,267.4 157.0,270.2 156.0,272.3 153.6,272.9 151.8,272.4 149.4,271.9Z" fill="#fd957a" stroke="#fd957a" stroke-width="0.7" stroke-linejoin="round"/>
<path d="M149.4,272.1 151.8,272.6 154.2,273.1 156.6,272.6 158.5,273.5 160.9,274.7 163.3,275.9 164.5,278.9 166.3,281.9 164.5,283.7 162.1,286.1 159.7,288.0 156.0,289.2 152.4,290.4 149.4,291.6Z" fill="#bde4b7" stroke="#bde4b7" stroke-width="0.7" stroke-linejoin="round"/>
<path d="M149.4,291.6 152.4,290.4 156.0,289.2 159.7,288.0 162.1,286.1 164.5,283.7 166.3,281.9 168.1,285.5 168.7,288.6 168.1,292.2 168.7,295.8 169.3,299.4 168.7,303.0 169.3,306.1 172.3,307.3 170.5,308.5 171.7,310.9 170.5,313.9 171.1,316.9 173.5,317.5 176.0,318.7 178.4,320.9 180.8,318.7 183.2,317.5 186.2,318.7 188.6,320.6 189.2,321.8 189.8,340.5 149.4,340.5Z" fill="#95aeb5" stroke="#95aeb5" stroke-width="0.7" stroke-linejoin="round"/>
<path d="M148.1,261.0 150.5,259.8 154.2,258.0 157.8,257.3 161.4,256.7 165.0,256.1 168.1,256.7 170.5,258.6 171.7,261.6 172.3,265.2 172.9,269.4 150.5,269.4Z" fill="#fdae6e" stroke="#fdae6e" stroke-width="0.7" stroke-linejoin="round"/>
<path d="M37.2,269.2 43.3,272.3 49.3,272.9 54.7,271.1 55.4,267.4 59.6,272.3 62.6,273.5 64.4,276.5 63.8,280.1 63.2,283.7 64.4,286.7 63.8,289.2 60.8,289.8 59.0,292.2 57.2,295.8 56.3,299.4 56.0,301.8 51.7,301.2 48.1,300.0 44.5,298.8 42.1,297.0 37.2,297.0Z" fill="#fca389" stroke="#fca389" stroke-width="0.7" stroke-linejoin="round"/>
<path d="M44.5,300.6 51.7,301.2 56.0,301.8 56.6,305.5 56.0,308.5 53.5,310.3 51.1,310.9 49.3,309.7 45.7,306.7Z" fill="#fd957a" stroke="#fd957a" stroke-width="0.7" stroke-linejoin="round"/>
<path d="M50.5,310.3 54.1,309.7 57.2,310.3 59.6,312.1 61.6,314.5 63.2,316.9 62.6,318.7 60.2,319.3 57.2,318.7 54.1,318.1 52.3,316.3 51.1,313.3Z" fill="#fdae6e" stroke="#fdae6e" stroke-width="0.7" stroke-linejoin="round"/>
<path d="M52.9,318.7 57.2,318.7 60.2,319.3 62.0,320.6 61.6,323.6 60.8,329.6 57.2,327.2 54.7,323.6Z" fill="#fca389" stroke="#fca389" stroke-width="0.7" stroke-linejoin="round"/>
<path d="M61.6,320.6 64.4,321.2 65.0,323.0 63.6,325.7 61.6,327.2 61.1,323.6Z" fill="#fd974b" stroke="#fd974b" stroke-width="0.7" stroke-linejoin="round"/>
<path d="M59.0,292.2 60.8,289.8 63.8,289.2 66.2,290.4 67.4,293.4 69.8,295.8 72.9,296.4 74.7,298.2 75.9,301.8 76.5,306.7 77.7,311.5 78.3,315.7 76.5,318.1 73.5,319.3 70.4,321.2 66.8,321.2 65.0,321.2 63.2,316.9 61.6,314.5 59.6,312.1 57.2,310.3 56.0,308.5 56.6,305.5 56.0,301.8 56.3,299.4 57.2,295.8Z" fill="#fdbea7" stroke="#fdbea7" stroke-width="0.7" stroke-linejoin="round"/>
<path d="M64.4,276.5 62.6,273.5 61.6,268.6 65.6,265.6 71.7,269.2 77.1,266.8 81.9,261.4 108.5,261.4 109.7,265.6 112.1,269.2 114.5,272.9 115.7,276.5 116.3,280.1 118.1,283.1 119.9,286.1 121.8,292.2 114.5,294.6 107.3,298.2 103.6,294.0 100.0,293.1 96.6,293.6 92.8,291.6 89.2,292.2 86.1,291.0 81.9,292.8 78.3,293.4 75.3,294.0 74.1,296.4 72.9,296.4 69.8,295.8 67.4,293.4 66.2,290.4 63.8,289.2 64.4,286.7 63.2,283.7 63.8,280.1Z" fill="#fdbea7" stroke="#fdbea7" stroke-width="0.7" stroke-linejoin="round"/>
<path d="M74.1,296.4 75.3,294.0 78.3,293.4 81.9,292.8 86.1,291.0 89.2,292.2 92.8,291.6 95.8,293.6 96.6,297.0 97.0,300.6 96.4,304.3 96.6,308.5 96.2,311.5 93.4,312.7 91.0,313.9 90.1,316.9 89.2,320.0 86.7,322.4 84.3,324.2 81.9,324.5 80.7,321.2 79.5,317.5 78.3,313.9 77.7,310.3 76.5,306.7 75.9,301.8 75.3,299.4Z" fill="#fdae6e" stroke="#fdae6e" stroke-width="0.7" stroke-linejoin="round"/>
<path d="M96.6,293.6 100.0,293.1 103.6,294.0 104.9,297.0 107.3,298.2 104.2,301.8 103.0,304.9 104.2,307.3 107.3,309.7 107.3,312.7 105.5,315.7 104.2,318.7 103.0,321.2 101.2,324.8 98.2,325.4 95.8,325.4 92.8,323.8 90.4,322.6 89.2,320.0 90.1,316.9 91.0,313.9 93.4,312.7 96.2,311.5 96.6,308.5 99.4,304.9 97.0,304.3 97.0,300.6 96.6,297.0Z" fill="#fca389" stroke="#fca389" stroke-width="0.7" stroke-linejoin="round"/>
<path d="M121.8,261.4 123.0,263.8 125.4,266.2 127.8,268.0 130.2,269.2 132.6,271.1 134.4,273.5 136.8,275.3 139.3,277.1 139.9,280.1 141.1,283.7 142.3,287.4 143.5,291.0 144.1,293.6 141.7,294.8 138.7,294.6 135.0,294.4 131.4,294.6 127.8,294.4 126.0,295.2 124.2,298.2 122.4,298.2 121.8,293.4 121.2,290.4 119.9,286.1 118.1,283.1 116.3,280.1 115.7,276.5 114.5,272.9 112.1,269.2 109.7,265.6 108.5,261.4Z" fill="#fca389" stroke="#fca389" stroke-width="0.7" stroke-linejoin="round"/>
<path d="M139.9,277.7 141.1,273.5 143.5,271.9 147.1,272.3 150.7,271.7 150.7,292.8 147.1,293.6 144.1,293.6 143.5,291.0 142.3,287.4 141.1,283.7 139.9,280.1Z" fill="#bde4b7" stroke="#bde4b7" stroke-width="0.7" stroke-linejoin="round"/>
<path d="M71.7,323.0 70.4,321.2 73.5,319.3 76.5,318.1 78.3,315.7 79.5,317.5 80.7,321.2 81.9,324.5 80.1,324.8 79.7,327.2 79.5,334.4 71.0,334.4Z" fill="#fca389" stroke="#fca389" stroke-width="0.7" stroke-linejoin="round"/>
<path d="M144.1,293.6 147.1,293.6 150.7,292.8 150.7,299.4 148.9,299.4 145.9,298.2 144.7,295.8Z" fill="#95aeb5" stroke="#95aeb5" stroke-width="0.7" stroke-linejoin="round"/>
<path d="M77.6,326.0 80.0,327.6 80.3,330.8 79.2,334.0 76.5,336.4 74.4,339.6 73.6,343.6 72.8,348.4 72.0,352.4 63.2,351.9 62.1,348.4 61.1,344.4 60.0,339.6 58.4,334.8 61.6,333.7 65.6,333.2 68.8,332.4 72.0,330.0 75.5,328.9 75.5,325.2 57.6,325.2Z" fill="#fca389" stroke="#fca389" stroke-width="0.7" stroke-linejoin="round"/>
<path d="M53.1,318.0 56.0,318.8 59.2,318.0 62.4,319.9 64.0,322.8 61.6,326.0 60.0,327.9 57.6,325.5 54.4,323.9Z" fill="#fd957a" stroke="#fd957a" stroke-width="0.7" stroke-linejoin="round"/>
<path d="M60.8,320.9 63.7,320.4 65.0,323.1 63.7,325.7 61.4,326.0Z" fill="#fd974b" stroke="#fd974b" stroke-width="0.7" stroke-linejoin="round"/>
<path d="M219.0,164.0 219.0,95.0 345.0,95.0 345.0,130.0 335.0,160.0 292.0,185.0 289.0,196.0 289.0,200.6 288.4,203.6 285.4,206.0 281.7,207.9 277.0,209.7 272.0,210.6 267.2,209.7 260.0,206.0 258.7,203.6 252.6,200.0 246.0,196.0 238.0,191.5 230.0,189.0 225.0,187.6 221.0,185.0 218.0,180.0 215.0,175.0 214.0,172.0 214.0,166.0Z" fill="#d5edcf" stroke="#d5edcf" stroke-width="0.7" stroke-linejoin="round"/>
<path d="M290.0,195.0 300.0,172.0 335.0,172.0 341.5,184.0 343.3,192.2 342.1,196.4 339.7,199.4 342.1,202.4 340.9,206.0 338.5,209.7 335.5,212.7 334.9,215.7 337.3,218.7 340.3,219.9 343.3,221.7 343.9,225.4 343.3,229.0 343.9,233.0 341.0,232.0 340.0,238.0 341.0,244.0 340.4,250.0 342.0,256.0 343.6,261.0 346.4,265.0 346.0,270.0 344.0,274.0 341.0,278.0 339.0,282.0 337.0,285.6 334.0,283.0 330.0,280.0 326.0,277.0 323.0,276.0 318.0,277.0 314.0,277.6 310.0,276.0 307.0,272.0 304.0,269.0 300.0,267.0 296.0,264.4 293.6,261.6 290.0,260.0 288.0,256.0 287.0,252.0 284.0,249.0 282.4,246.0 278.0,245.0 275.0,242.0 274.0,239.0 270.0,237.6 266.0,237.0 262.0,236.0 261.0,232.0 261.2,233.0 262.4,230.2 263.6,226.6 264.8,223.0 268.5,220.5 273.3,219.9 278.1,218.7 281.7,216.9 285.4,214.5 286.0,210.9 286.6,207.3 288.4,204.8 287.8,201.2 289.0,200.0Z" fill="#a2bfc3" stroke="#a2bfc3" stroke-width="0.7" stroke-linejoin="round"/>
<path d="M343.6,230.0 342.0,232.0 345.0,236.0 348.0,240.0 351.0,241.0 353.0,236.0 355.0,235.0 355.6,241.0 360.0,243.0 366.0,244.0 370.4,244.4 368.0,248.0 364.0,252.0 361.0,257.0 360.0,260.0 362.0,265.0 366.0,270.0 369.6,274.0 370.0,278.0 368.0,282.0 364.0,285.0 361.0,289.0 360.0,293.0 362.0,297.0 363.0,301.0 363.6,305.0 368.0,306.0 372.0,303.0 376.0,304.0 380.0,305.0 381.0,310.0 380.0,314.0 384.0,317.0 390.0,318.0 396.0,317.0 400.0,315.0 404.0,316.0 410.0,317.0 414.0,321.0 416.0,324.0 410.8,330.0 410.0,331.6 407.6,334.8 406.0,338.8 404.4,335.6 401.2,334.0 398.0,336.1 394.0,334.8 391.6,336.4 390.0,340.4 389.2,344.4 390.0,348.4 387.6,350.8 386.0,354.0 385.2,358.0 384.4,362.0 382.0,364.4 379.6,367.6 382.0,370.0 384.4,373.2 380.4,374.8 375.6,375.6 372.4,377.2 370.0,380.4 367.6,384.1 364.4,387.3 359.6,388.9 353.2,387.6 350.0,385.2 349.2,382.0 352.4,379.6 355.6,376.4 357.2,372.4 356.4,366.8 355.6,362.0 354.0,358.0 350.0,357.5 345.2,356.4 342.8,353.2 345.2,351.6 348.1,349.2 346.5,346.0 345.2,341.2 346.0,337.2 348.4,334.0 350.0,330.0 346.4,324.0 348.0,322.0 350.0,319.0 348.0,315.0 344.0,311.0 339.0,308.0 334.0,307.0 333.0,303.0 334.0,299.0 340.0,295.0 339.0,292.0 336.0,289.0 337.0,285.6 339.0,282.0 341.0,278.0 344.0,274.0 346.0,270.0 346.4,265.0 343.6,261.0 342.0,256.0 340.4,250.0 341.0,244.0 340.0,238.0 341.0,232.0Z" fill="#95aeb5" stroke="#95aeb5" stroke-width="0.7" stroke-linejoin="round"/>
<path d="M342.8,353.2 345.2,356.4 350.0,357.5 354.0,358.0 355.6,362.0 356.4,366.8 357.2,372.4 355.6,376.4 352.4,379.6 349.2,382.0 347.6,384.4 345.2,386.8 342.0,390.0 338.8,388.4 335.6,389.2 333.7,386.8 334.8,383.6 338.0,382.0 341.2,379.6 342.8,376.4 342.0,372.4 343.3,368.4 343.9,364.4 342.8,360.4 342.0,356.4Z" fill="#8ba1ab" stroke="#8ba1ab" stroke-width="0.7" stroke-linejoin="round"/>
<path d="M338.8,388.4 342.0,390.0 345.2,386.8 347.6,384.4 350.0,386.8 353.2,388.4 359.6,389.2 364.4,387.6 367.6,384.4 370.0,380.4 372.4,377.2 375.6,375.6 380.4,374.8 384.4,373.2 388.4,375.6 392.4,378.0 396.4,379.6 398.0,381.2 396.4,385.2 394.8,390.0 393.2,397.2 393.2,413.2 338.8,413.2 339.6,400.4 341.2,397.2 340.4,393.2Z" fill="#b0deaa" stroke="#b0deaa" stroke-width="0.7" stroke-linejoin="round"/>
<path d="M261.9,305.4 263.2,302.2 265.6,300.6 268.0,303.8 271.2,306.2 276.0,307.0 280.8,307.8 284.8,308.6 284.0,313.4 284.8,318.2 286.4,320.6 290.4,322.2 295.2,324.6 299.2,327.0 301.6,330.2 303.2,333.4 308.0,334.5 312.8,336.6 316.8,337.4 317.6,342.2 317.2,343.6 322.8,342.8 327.6,341.5 334.0,340.4 340.4,340.9 344.4,340.4 345.2,341.2 346.5,346.0 348.1,349.2 345.2,351.6 342.8,353.2 342.0,356.4 342.8,360.4 343.9,364.4 343.3,368.4 342.0,372.4 342.8,376.4 341.2,379.6 338.0,382.0 334.8,383.6 333.7,386.8 335.6,389.2 338.8,388.4 340.4,393.2 341.2,397.2 339.6,400.4 340.7,402.8 340.4,414.8 266.8,414.8 244.0,342.2 250.4,323.0 252.8,324.6 254.4,321.4 256.8,317.4 260.0,315.0 263.2,313.4 262.4,309.4Z" fill="#fdb198" stroke="#fdb198" stroke-width="0.7" stroke-linejoin="round"/>
<path d="M232.0,300.6 235.2,295.0 239.2,292.6 244.0,289.4 248.8,287.8 255.2,287.0 260.0,286.2 264.8,283.8 267.2,286.2 271.2,289.4 274.4,293.4 276.0,297.4 277.6,301.4 280.8,303.0 284.0,304.6 285.6,306.2 284.8,308.6 280.8,307.8 276.0,307.0 271.2,306.2 268.0,303.8 265.6,300.6 263.2,302.2 261.9,305.4 262.4,309.4 263.2,313.4 260.0,315.0 256.8,317.4 254.4,321.4 252.8,324.6 250.4,326.2 244.0,327.8 240.8,315.0 238.4,311.0 235.2,307.0 232.8,303.8Z" fill="#fdbea7" stroke="#fdbea7" stroke-width="0.7" stroke-linejoin="round"/>
<path d="M213.6,295.0 219.2,295.8 223.2,297.4 227.2,299.8 232.0,300.6 232.8,303.8 235.2,307.0 238.4,311.0 240.8,315.0 244.0,327.8 213.6,327.8Z" fill="#fdb198" stroke="#fdb198" stroke-width="0.7" stroke-linejoin="round"/>
<path d="M566.2,240.3 568.1,251.7 570.0,263.2 564.2,274.7 554.7,282.3 552.8,293.8 556.6,305.2 558.5,316.7 M430.6,276.6 438.2,278.5 443.9,286.1 445.8,297.6 447.7,309.0 449.7,318.6 461.1,316.7 470.7,303.3 480.2,305.2 487.9,318.6 M480.2,335.8 485.9,343.4 491.7,351.1 489.8,358.7 482.1,366.3 478.3,375.9 470.7,383.5 461.1,389.2 451.6,393.1 M508.9,330.0 512.7,337.7 518.4,347.2 520.3,356.8 M612.0,375.9 619.6,377.8 629.2,374.0 633.8,366.3 631.1,358.7 625.4,356.8 M415.3,372.1 421.0,370.1 424.8,375.9 430.6,372.1 436.3,375.9 434.4,381.6 426.7,385.4 419.1,381.6 415.3,372.1 M197.1,209.7 200.7,212.1 206.7,213.3 205.5,215.7 200.7,216.9 195.9,222.3 M214.0,242.3 222.4,241.7 229.7,245.9 234.5,247.1 236.9,244.7 241.8,238.6 246.6,232.6 250.2,225.4 256.2,222.9 263.5,222.3 M234.5,247.1 239.3,251.9 243.0,258.0 244.2,265.2 M195.9,255.5 191.7,260.4 189.8,267.6 M170.5,200.0 174.1,204.8 180.2,209.7 185.0,212.1 187.4,218.1 M161.0,175.0 168.0,178.0 172.0,184.0 170.0,190.0 174.0,196.0 173.0,204.0 176.0,212.0 M204.0,192.0 210.0,196.0 218.0,200.0 226.0,208.0 M174.0,160.0 178.0,166.0 177.0,174.0 182.0,180.0 190.0,186.0 198.0,188.0 204.0,192.0 M370.0,244.5 375.0,238.0 382.0,230.0 388.0,226.8 395.0,224.0 402.0,223.0 413.0,225.0 424.0,227.0" fill="none" stroke="#fff" stroke-opacity="0.28" stroke-width="0.6" stroke-linejoin="round"/>
</g>
<path d="M332.4,181.9 332.4,186.7 330.6,189.1 327.6,188.5 326.2,190.4 324.2,192.2 323.6,195.2 322.4,200.0 320.6,204.2 318.8,208.5 317.7,212.1 318.4,213.5 321.8,214.0 325.0,216.1 327.4,219.3 328.0,223.0 327.0,226.6 326.6,230.8 328.2,234.4 326.2,234.4 324.8,232.0 323.0,230.2 323.6,227.8 324.6,224.8 325.1,221.7 324.2,219.0 321.9,216.7 319.2,216.2 317.1,216.7 316.3,219.0 316.0,222.1 314.2,225.8 311.8,228.4 308.7,230.8 304.9,232.0 299.8,232.6 295.0,232.1 292.1,230.4 291.1,226.8 293.4,225.4 295.9,227.2 298.6,228.4 302.3,228.1 305.6,226.7 308.5,223.9 310.8,221.1 312.6,218.7 312.0,216.9 311.4,214.5 312.6,211.5 314.4,207.9 315.7,204.2 317.2,200.6 318.9,197.6 318.4,195.2 318.7,192.2 320.4,191.0 321.7,188.5 323.6,186.1 325.0,183.1 325.2,180.7Z M433.1,181.5 436.7,177.2 438.4,169.4 442.8,169.4 440.4,183.3 436.7,184.5 433.1,186.3 430.7,188.1 425.9,191.7 421.0,194.1 418.4,197.5 419.8,194.1 423.5,189.9 428.3,185.7Z M67.4,291.0 70.4,290.0 72.9,290.4 73.7,292.8 73.5,295.2 71.0,295.8 68.6,294.0Z M132.0,159.6 133.6,159.3 134.1,161.7 133.2,163.2 132.0,162.3Z" fill="#fff"/>
<path d="M331.2,183.1 332.2,186.7 330.6,191.0 328.8,195.8 331.2,199.0 334.9,201.2 335.8,203.0" fill="none" stroke="#fff" stroke-width="1.5" stroke-linejoin="round" stroke-linecap="round"/>
<path d="M335.8,192.5 337.3,194.6" fill="none" stroke="#fff" stroke-width="1.2" stroke-linejoin="round" stroke-linecap="round"/>
<path d="M346.3,187.9 348.7,195.2 351.8,200.0 352.4,202.4 349.9,206.0 348.7,209.7 347.5,213.3 349.3,218.1 351.2,220.5" fill="none" stroke="#fff" stroke-width="1.3" stroke-linejoin="round" stroke-linecap="round"/>
<path d="M434.3,179.9 436.1,178.9 438.2,179.4 438.7,181.5 437.3,182.8 435.3,182.6 434.3,181.5Z" fill="#fdbea7"/>
</g>
<g id="title">
<text x="374.5" y="18.7" class="ttl" text-anchor="middle">Итоги выборов в Государственную Думу РФ по партийным спискам 19 декабря 1999</text>
<text x="374.5" y="37.0" class="ttl" text-anchor="middle">(суммарно по субъектам федерации)</text>
</g>
<g id="legend">
<rect x="758.00" y="53.0" width="28.47" height="13.6" fill="#fdccb9"/>
<rect x="786.07" y="53.0" width="28.47" height="13.6" fill="#fdbea7"/>
<rect x="814.14" y="53.0" width="28.47" height="13.6" fill="#fdb198"/>
<rect x="842.21" y="53.0" width="28.47" height="13.6" fill="#fca389"/>
<rect x="870.29" y="53.0" width="28.47" height="13.6" fill="#fd957a"/>
<rect x="898.36" y="53.0" width="28.47" height="13.6" fill="#fe876b"/>
<rect x="926.43" y="53.0" width="28.47" height="13.6" fill="#ff785b"/>
<text x="758.00" y="47.5" class="t9">10</text>
<text x="786.07" y="47.5" class="t9">15</text>
<text x="814.14" y="47.5" class="t9">20</text>
<text x="842.21" y="47.5" class="t9">25</text>
<text x="870.29" y="47.5" class="t9">30</text>
<text x="898.36" y="47.5" class="t9">35</text>
<text x="926.43" y="47.5" class="t9">40</text>
<text x="960.1" y="63.1" class="t12">КПРФ</text>
<rect x="758.00" y="88.3" width="28.47" height="13.6" fill="#d5edcf"/>
<rect x="786.07" y="88.3" width="28.47" height="13.6" fill="#cae8c3"/>
<rect x="814.14" y="88.3" width="28.47" height="13.6" fill="#bde4b7"/>
<rect x="842.21" y="88.3" width="28.47" height="13.6" fill="#b0deaa"/>
<rect x="870.29" y="88.3" width="28.47" height="13.6" fill="#a3d99f"/>
<rect x="898.36" y="88.3" width="28.47" height="13.6" fill="#95d392"/>
<rect x="926.43" y="88.3" width="28.47" height="13.6" fill="#83cb82"/>
<text x="758.00" y="82.8" class="t9">10</text>
<text x="786.07" y="82.8" class="t9">15</text>
<text x="814.14" y="82.8" class="t9">20</text>
<text x="842.21" y="82.8" class="t9">25</text>
<text x="870.29" y="82.8" class="t9">30</text>
<text x="898.36" y="82.8" class="t9">35</text>
<text x="926.43" y="82.8" class="t9">40</text>
<text x="960.1" y="98.4" class="t12">НР</text>
<rect x="758.00" y="123.6" width="28.47" height="13.6" fill="#fdd8b6"/>
<rect x="786.07" y="123.6" width="28.47" height="13.6" fill="#fdcda2"/>
<rect x="814.14" y="123.6" width="28.47" height="13.6" fill="#fdc591"/>
<rect x="842.21" y="123.6" width="28.47" height="13.6" fill="#fdb97f"/>
<rect x="870.29" y="123.6" width="28.47" height="13.6" fill="#fdae6e"/>
<rect x="898.36" y="123.6" width="28.47" height="13.6" fill="#fda35e"/>
<rect x="926.43" y="123.6" width="28.47" height="13.6" fill="#fd974b"/>
<text x="758.00" y="118.1" class="t9">10</text>
<text x="786.07" y="118.1" class="t9">15</text>
<text x="814.14" y="118.1" class="t9">20</text>
<text x="842.21" y="118.1" class="t9">25</text>
<text x="870.29" y="118.1" class="t9">30</text>
<text x="898.36" y="118.1" class="t9">35</text>
<text x="926.43" y="118.1" class="t9">40</text>
<text x="960.1" y="133.7" class="t12">ОСР</text>
<rect x="758.00" y="159.0" width="28.47" height="13.6" fill="#b9d0d3"/>
<rect x="786.07" y="159.0" width="28.47" height="13.6" fill="#a8c4c7"/>
<rect x="814.14" y="159.0" width="28.47" height="13.6" fill="#9fbbbf"/>
<rect x="842.21" y="159.0" width="28.47" height="13.6" fill="#95aeb5"/>
<rect x="870.29" y="159.0" width="28.47" height="13.6" fill="#8ba1ab"/>
<rect x="898.36" y="159.0" width="28.47" height="13.6" fill="#8190a0"/>
<rect x="926.43" y="159.0" width="28.47" height="13.6" fill="#758698"/>
<text x="758.00" y="153.5" class="t9">10</text>
<text x="786.07" y="153.5" class="t9">15</text>
<text x="814.14" y="153.5" class="t9">20</text>
<text x="842.21" y="153.5" class="t9">25</text>
<text x="870.29" y="153.5" class="t9">30</text>
<text x="898.36" y="153.5" class="t9">35</text>
<text x="926.43" y="153.5" class="t9">40</text>
<text x="960.1" y="169.1" class="t12">ПБ</text>
</g>
<g id="bars">
<rect x="820.6" y="208.40" width="142.46" height="24.3" fill="#ff8a6b"/>
<line x1="818.0" x2="820.6" y1="220.55" y2="220.55" stroke="#000" stroke-width="0.6"/>
<text x="814.2" y="224.05" class="t10" text-anchor="end">КПРФ</text>
<text x="964.86" y="223.15" class="t10">19.2%</text>
<rect x="820.6" y="238.86" width="114.27" height="24.3" fill="#98d594"/>
<line x1="818.0" x2="820.6" y1="251.01" y2="251.01" stroke="#000" stroke-width="0.6"/>
<text x="814.2" y="254.51" class="t10" text-anchor="end">НР</text>
<text x="936.67" y="253.61" class="t10">15.4%</text>
<rect x="820.6" y="269.32" width="107.59" height="24.3" fill="#fda762"/>
<line x1="818.0" x2="820.6" y1="281.47" y2="281.47" stroke="#000" stroke-width="0.6"/>
<text x="814.2" y="284.97" class="t10" text-anchor="end">ОСР</text>
<text x="929.99" y="284.07" class="t10">14.5%</text>
<rect x="820.6" y="299.78" width="100.17" height="24.3" fill="#8799a5"/>
<line x1="818.0" x2="820.6" y1="311.93" y2="311.93" stroke="#000" stroke-width="0.6"/>
<text x="814.2" y="315.43" class="t10" text-anchor="end">ПБ</text>
<text x="922.57" y="314.53" class="t10">13.5%</text>
<rect x="820.6" y="330.24" width="51.94" height="24.3" fill="#b5b3d8"/>
<line x1="818.0" x2="820.6" y1="342.39" y2="342.39" stroke="#000" stroke-width="0.6"/>
<text x="814.2" y="345.89" class="t10" text-anchor="end">ЯБЛОКО</text>
<text x="874.34" y="344.99" class="t10">7.0%</text>
<rect x="820.6" y="360.70" width="48.97" height="24.3" fill="#94c4e0"/>
<line x1="818.0" x2="820.6" y1="372.85" y2="372.85" stroke="#000" stroke-width="0.6"/>
<text x="814.2" y="376.35" class="t10" text-anchor="end">ЛДПР</text>
<text x="871.37" y="375.45" class="t10">6.6%</text>
<rect x="820.6" y="391.16" width="32.65" height="24.3" fill="#dbc6a0"/>
<line x1="818.0" x2="820.6" y1="403.31" y2="403.31" stroke="#000" stroke-width="0.6"/>
<text x="814.2" y="406.81" class="t10" text-anchor="end">КТР</text>
<text x="855.05" y="405.91" class="t10">4.4%</text>
<rect x="820.6" y="421.62" width="31.91" height="24.3" fill="#dbc6a0"/>
<line x1="818.0" x2="820.6" y1="433.77" y2="433.77" stroke="#000" stroke-width="0.6"/>
<text x="814.2" y="437.27" class="t10" text-anchor="end">Жен.</text>
<text x="854.31" y="436.37" class="t10">4.3%</text>
<rect x="820.6" y="452.08" width="29.68" height="24.3" fill="#dbc6a0"/>
<line x1="818.0" x2="820.6" y1="464.23" y2="464.23" stroke="#000" stroke-width="0.6"/>
<text x="814.2" y="467.73" class="t10" text-anchor="end">Пенс.</text>
<text x="852.08" y="466.83" class="t10">4.0%</text>
<rect x="820.6" y="482.54" width="48.23" height="24.3" fill="#dbc6a0"/>
<line x1="818.0" x2="820.6" y1="494.69" y2="494.69" stroke="#000" stroke-width="0.6"/>
<text x="814.2" y="498.19" class="t10" text-anchor="end">Другие</text>
<text x="870.63" y="497.29" class="t10">6.5%</text>
<rect x="820.6" y="513.00" width="34.13" height="24.3" fill="#b3b3b3"/>
<line x1="818.0" x2="820.6" y1="525.15" y2="525.15" stroke="#000" stroke-width="0.6"/>
<text x="814.2" y="528.65" class="t10" text-anchor="end">Против всех</text>
<text x="856.53" y="527.75" class="t10">4.6%</text>
</g>
<g id="insets">
<text x="47.3" y="380.2" class="t12" text-anchor="middle">Москва</text>
<text x="141.6" y="380.2" class="t12" text-anchor="middle">С.-Петербург</text>
<path d="M43.7,388.6 48.2,391.7 54.5,397.1 60.8,402.5 65.3,407.0 66.2,416.0 67.1,425.0 62.6,429.5 57.2,434.0 50.9,440.3 44.6,445.7 38.3,439.4 32.9,434.0 27.5,428.6 32.0,424.1 32.0,416.0 32.4,407.9 33.4,400.7 40.1,398.0 41.9,392.6Z" fill="#fdae6e"/>
<path d="M121.0,390.0 126.8,389.2 133.8,389.2 137.0,392.2 142.1,397.3 148.5,403.7 154.9,410.7 160.0,416.1 158.8,421.0 156.2,428.0 160.7,431.2 165.2,435.0 165.4,439.1 160.0,442.1 154.3,445.3 148.5,444.6 142.8,442.7 138.3,437.6 132.5,429.9 126.1,422.2 121.0,415.8 117.8,412.9 122.3,414.8 128.0,416.5 133.8,418.4 138.3,420.3 141.5,422.2 146.0,421.2 149.8,419.4 151.7,417.1 150.4,412.6 149.2,410.5 146.0,409.7 142.1,408.8 138.9,407.5 138.5,404.3 137.0,401.8 136.7,398.6 137.0,395.4 135.1,392.8 132.5,391.3 128.0,390.2 124.2,390.2Z" fill="#cae8c3"/>
<rect x="18.2" y="388.4" width="58.3" height="57.8" fill="none" stroke="#222" stroke-width="0.7"/>
<rect x="112.8" y="388.4" width="58.1" height="57.8" fill="none" stroke="#222" stroke-width="0.7"/>
</g>
<g id="seats">
<rect x="0.60" y="473.0" width="191.17" height="28.4" fill="#ff8a6b" stroke="#fff" stroke-width="0.7"/>
<text x="96.18" y="490.40" class="t9b w" text-anchor="middle">КПРФ</text>
<text x="96.18" y="514.00" class="t9" text-anchor="middle" style="font-size:8.5px">57</text>
<rect x="191.77" y="473.0" width="150.92" height="28.4" fill="#98d594" stroke="#fff" stroke-width="0.7"/>
<text x="267.23" y="490.40" class="t9b w" text-anchor="middle">НР</text>
<text x="267.23" y="514.00" class="t9" text-anchor="middle" style="font-size:8.5px">45</text>
<rect x="342.69" y="473.0" width="144.21" height="28.4" fill="#fda762" stroke="#fff" stroke-width="0.7"/>
<text x="414.79" y="490.40" class="t9b w" text-anchor="middle">ОСР</text>
<text x="414.79" y="514.00" class="t9" text-anchor="middle" style="font-size:8.5px">43</text>
<rect x="486.90" y="473.0" width="134.15" height="28.4" fill="#8799a5" stroke="#fff" stroke-width="0.7"/>
<text x="553.97" y="490.40" class="t9b w" text-anchor="middle">ПБ</text>
<text x="553.97" y="514.00" class="t9" text-anchor="middle" style="font-size:8.5px">40</text>
<rect x="621.05" y="473.0" width="70.43" height="28.4" fill="#b5b3d8" stroke="#fff" stroke-width="0.7"/>
<text x="656.26" y="490.40" class="t9b w" text-anchor="middle">ЯБЛОКО</text>
<text x="656.26" y="514.00" class="t9" text-anchor="middle" style="font-size:8.5px">21</text>
<rect x="691.48" y="473.0" width="63.72" height="28.4" fill="#94c4e0" stroke="#fff" stroke-width="0.7"/>
<text x="723.34" y="490.40" class="t9b w" text-anchor="middle">ЛДПР</text>
<text x="723.34" y="514.00" class="t9" text-anchor="middle" style="font-size:8.5px">19</text>
<text x="377.8" y="464.5" class="t12 b" text-anchor="middle">Распределение мандатов</text>
</g>
</svg>
</body>
</html>
